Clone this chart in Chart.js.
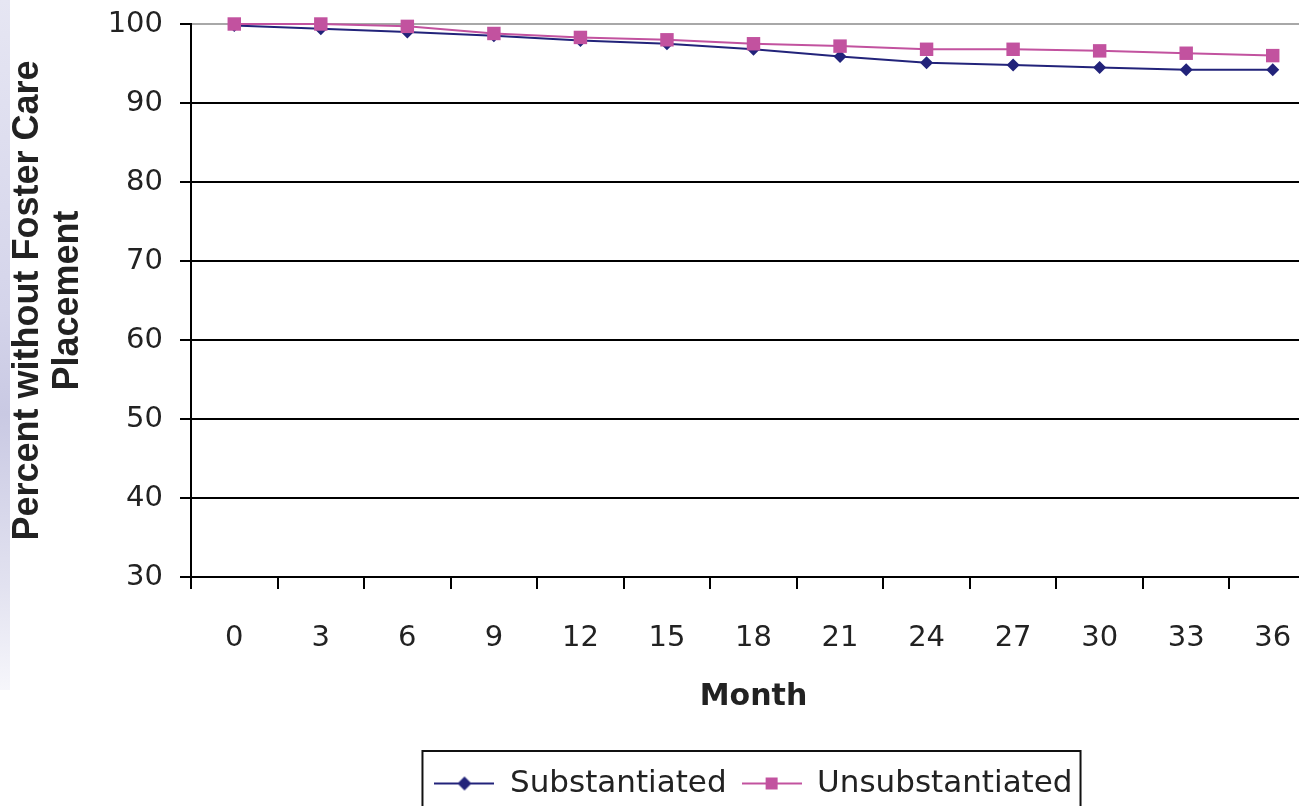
<!DOCTYPE html>
<html>
<head>
<meta charset="utf-8">
<script src="https://cdn.jsdelivr.net/npm/chart.js@4/dist/chart.umd.min.js"></script>
<style>
  html, body { margin: 0; padding: 0; background: #ffffff; overflow: hidden; width: 1299px; height: 806px; }
  #wrap { position: relative; width: 1299px; height: 806px; overflow: hidden; }
  #band { position: absolute; left: 0; top: 0; width: 10px; height: 690px;
          background: linear-gradient(to bottom, #e6e6f3 0%, #d4d4ea 45%, #c9c9e3 60%, #e2e2f0 85%, #f6f6fb 100%); }
  canvas { position: absolute; left: 0; top: 0; }
</style>
</head>
<body>
<div id="wrap">
  <div id="band"></div>
  <canvas id="c" width="1330" height="806"></canvas>
</div>
<script>
const months = ['0', '3', '6', '9', '12', '15', '18', '21', '24', '27', '30', '33', '36'];
const substantiated = [99.8, 99.4, 99.0, 98.5, 97.9, 97.5, 96.8, 95.9, 95.1, 94.8, 94.5, 94.2, 94.2];
const unsubstantiated = [100, 100, 99.7, 98.8, 98.3, 98.0, 97.5, 97.2, 96.8, 96.8, 96.6, 96.3, 96.0];
const yTicks = [30, 40, 50, 60, 70, 80, 90, 100];
const seriesNames = ['Substantiated', 'Unsubstantiated'];

const NAVY = '#22237a';
const PINK = '#c2529f';
const TXT = '#222222';

function legendIcon(color, shape) {
  const c = document.createElement('canvas');
  c.width = 60; c.height = 20;
  const g = c.getContext('2d');
  g.strokeStyle = color; g.lineWidth = 2;
  g.beginPath(); g.moveTo(0, 10); g.lineTo(60, 10); g.stroke();
  g.fillStyle = color;
  if (shape === 'diamond') {
    g.beginPath(); g.moveTo(30 - 7, 10); g.lineTo(30, 3); g.lineTo(30 + 7, 10); g.lineTo(30, 17); g.closePath(); g.fill();
  } else {
    g.fillRect(30 - 6, 4, 12, 12);
  }
  return c;
}
const icons = [legendIcon(NAVY, 'diamond'), legendIcon(PINK, 'square')];

const legendBox = {
  id: 'legendBox',
  afterDraw(chart) {
    const lg = chart.legend;
    if (!lg || !lg.legendHitBoxes || !lg.legendHitBoxes.length) return;
    const hb = lg.legendHitBoxes;
    let l = Infinity, r = -Infinity;
    hb.forEach(b => { l = Math.min(l, b.left); r = Math.max(r, b.left + b.width); });
    const ctx = chart.ctx;
    ctx.save();
    ctx.strokeStyle = '#111';
    ctx.lineWidth = 2;
    const top = lg.top - 2;
    ctx.strokeRect(l - 12, top, (r + 8) - (l - 12), chart.height - top + 20);
    ctx.restore();
  }
};

new Chart(document.getElementById('c'), {
  type: 'line',
  data: {
    labels: months,
    datasets: [
      {
        label: seriesNames[0],
        data: substantiated,
        borderColor: NAVY,
        backgroundColor: NAVY,
        borderWidth: 2,
        pointStyle: 'rectRot',
        pointRadius: 6.5,
        pointBorderWidth: 0,
        tension: 0,
        clip: false,
        order: 2
      },
      {
        label: seriesNames[1],
        data: unsubstantiated,
        borderColor: PINK,
        backgroundColor: PINK,
        borderWidth: 2,
        pointStyle: 'rect',
        pointRadius: 9.5,
        pointBorderWidth: 0,
        tension: 0,
        clip: false,
        order: 1
      }
    ]
  },
  options: {
    responsive: false,
    devicePixelRatio: 1,
    animation: false,
    events: [],
    layout: { padding: { top: 24, right: 14, left: 0, bottom: -3 } },
    plugins: {
      tooltip: { enabled: false },
      legend: {
        position: 'bottom',
        fullSize: false,
        labels: {
          font: { family: 'DejaVu Sans', size: 31 },
          color: TXT,
          usePointStyle: true,
          pointStyleWidth: 60,
          boxHeight: 20,
          padding: 15,
          generateLabels: () => seriesNames.map((n, i) => ({
            text: n, pointStyle: icons[i], fillStyle: 'transparent', strokeStyle: 'transparent',
            lineWidth: 0, hidden: false, datasetIndex: i, fontColor: TXT
          }))
        }
      }
    },
    scales: {
      x: {
        type: 'category',
        offset: true,
        afterFit: (s) => { s.height = 176; },
        grid: {
          offset: true,
          drawOnChartArea: false,
          drawTicks: true,
          tickLength: 12,
          tickColor: '#000',
          lineWidth: 2
        },
        border: { display: true, color: '#000', width: 2 },
        ticks: {
          font: { family: 'DejaVu Sans', size: 29 },
          color: TXT,
          padding: 32,
          maxRotation: 0,
          autoSkip: false
        },
        title: {
          display: true,
          text: 'Month',
          font: { family: 'DejaVu Sans', size: 30, weight: 'bold' },
          color: TXT,
          padding: { top: 0, bottom: 38 }
        }
      },
      y: {
        min: 30,
        max: 100,
        afterFit: (s) => { s.width = 191; s.paddingTop = 0; s.paddingBottom = 0; },
        afterBuildTicks: (s) => { s.ticks = yTicks.map(v => ({ value: v })); },
        grid: {
          color: (c) => (c.tick && c.tick.value === 100) ? '#a8a8a8' : '#000',
          tickColor: '#000',
          lineWidth: 2,
          drawTicks: true,
          tickLength: 11
        },
        border: { display: true, color: '#000', width: 2 },
        ticks: {
          font: { family: 'DejaVu Sans', size: 29 },
          color: TXT,
          padding: 17
        },
        title: {
          display: true,
          text: ['Percent without Foster Care', 'Placement'],
          font: { family: 'Liberation Sans', size: 36, weight: 'bold', lineHeight: 1.12 },
          color: TXT,
          padding: { top: 8, bottom: 0 }
        }
      }
    }
  },
  plugins: [legendBox]
});
</script>
</body>
</html>
